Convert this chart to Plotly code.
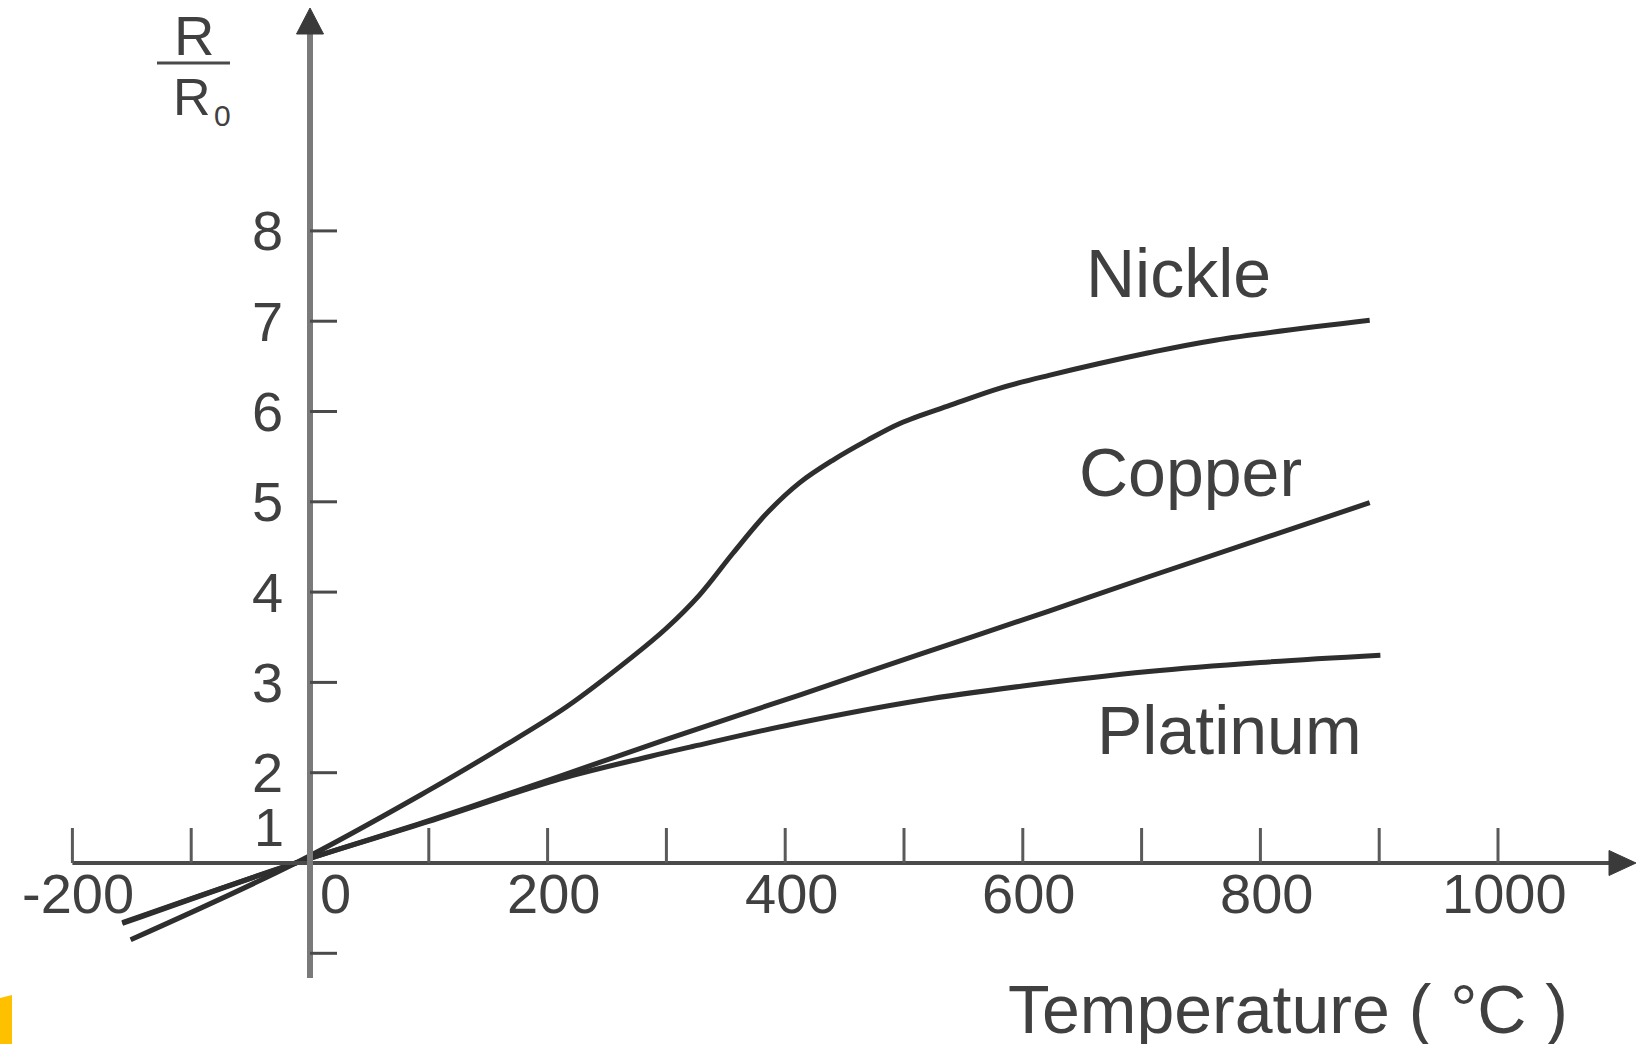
import plotly.graph_objects as go

# Resistance ratio R/R0 versus temperature for three metals
temp_nickel = [-151, -12, 98, 160, 216, 271, 300, 328, 356, 385, 412, 440, 469, 497, 539, 581, 622, 706, 762, 892]
ratio_nickel = [0.15, 1.0, 1.79, 2.27, 2.73, 3.28, 3.60, 3.97, 4.43, 4.88, 5.21, 5.46, 5.68, 5.87, 6.07, 6.26, 6.40, 6.65, 6.79, 7.01]

temp_copper = [-158, -12, 100, 210, 300, 412, 513, 622, 706, 892]
ratio_copper = [0.33, 1.0, 1.47, 1.96, 2.37, 2.86, 3.31, 3.79, 4.17, 4.99]

temp_platinum = [-158, -12, 100, 210, 286, 322, 407, 513, 600, 706, 800, 901]
ratio_platinum = [0.34, 1.0, 1.46, 1.93, 2.18, 2.29, 2.54, 2.80, 2.96, 3.12, 3.22, 3.30]

x_tick_values = [-200, -100, 100, 200, 300, 400, 500, 600, 700, 800, 900, 1000]
x_label_values = [-200, 200, 400, 600, 800, 1000]
y_tick_values = [0, 2, 3, 4, 5, 6, 7, 8]
y_label_values = [2, 3, 4, 5, 6, 7, 8]

series_names = ["Nickle", "Copper", "Platinum"]
series_label_pos = [(731, 7.53), (741, 5.33), (774, 2.47)]

# page geometry: the axes cross at (0 °C, R/R0 = 1)
W, H = 1642, 1044
X0_PX, X_SCALE = 310, 1.188   # pixel column of 0 °C, pixels per °C
Y1_PX, Y_SCALE = 863, 90.3    # pixel row of R/R0 = 1, pixels per unit


def dx(px):
    return px / X_SCALE


def dy(px):
    return px / Y_SCALE


x_range = [-X0_PX / X_SCALE, (W - X0_PX) / X_SCALE]
y_range = [1 - (H - Y1_PX) / Y_SCALE, 1 + Y1_PX / Y_SCALE]

CURVE = "#2e2e2e"
TEXT = "#404040"
FONT = "Liberation Sans, Arial, sans-serif"

fig = go.Figure()
for t, r in [(temp_nickel, ratio_nickel), (temp_copper, ratio_copper), (temp_platinum, ratio_platinum)]:
    fig.add_trace(go.Scatter(x=t, y=r, mode="lines",
                             line=dict(color=CURVE, width=5, shape="spline", smoothing=1.0),
                             hoverinfo="skip", showlegend=False))

shapes = []
# horizontal axis with arrow
x_tip = x_range[1] - dx(6)
shapes.append(dict(type="line", xref="x", yref="y", x0=-200, y0=1, x1=x_tip - dx(20), y1=1,
                   line=dict(color="#4a4a4a", width=4)))
shapes.append(dict(type="path", xref="x", yref="y",
                   path=f"M {x_tip},1 L {x_tip - dx(27)},{1 + dy(12.5)} L {x_tip - dx(27)},{1 - dy(12.5)} Z",
                   fillcolor="#3a3a3a", line=dict(color="#3a3a3a", width=1)))
# vertical axis with arrow
y_tip = y_range[1] - dy(8)
shapes.append(dict(type="line", xref="x", yref="y", x0=0, y0=1 - dy(115), x1=0, y1=y_tip - dy(20),
                   line=dict(color="#7a7a7a", width=6)))
shapes.append(dict(type="path", xref="x", yref="y",
                   path=f"M 0,{y_tip} L {-dx(13.5)},{y_tip - dy(26)} L {dx(13.5)},{y_tip - dy(26)} Z",
                   fillcolor="#3a3a3a", line=dict(color="#3a3a3a", width=1)))
for t in x_tick_values:
    shapes.append(dict(type="line", xref="x", yref="y", x0=t, y0=1, x1=t, y1=1 + dy(35),
                       line=dict(color="#5a5a5a", width=3)))
for t in y_tick_values:
    shapes.append(dict(type="line", xref="x", yref="y", x0=0, y0=t, x1=dx(27), y1=t,
                       line=dict(color="#4a4a4a", width=3)))
# fraction bar of the R/R0 axis title
shapes.append(dict(type="line", xref="x", yref="y", x0=-dx(153), y0=1 + dy(800), x1=-dx(80), y1=1 + dy(800),
                   line=dict(color="#4a4a4a", width=3)))
# small orange tab in the lower-left corner
shapes.append(dict(type="path", xref="paper", yref="paper",
                   path=f"M 0,{1 - 998 / H} L {12 / W},{1 - 995 / H} L {12 / W},0 L 0,0 Z",
                   fillcolor="#FFC000", line=dict(width=0)))

ann = []


def label(x, y, text, size, xshift=0, yshift=0, xanchor="center"):
    ann.append(dict(x=x, y=y, xref="x", yref="y", text=text, showarrow=False,
                    xanchor=xanchor, yanchor="middle", xshift=xshift, yshift=yshift,
                    font=dict(family=FONT, size=size, color=TEXT)))


for v in x_label_values:
    label(v, 1, str(v), 56, xshift=6, yshift=-30)
label(0, 1, "0", 56, xshift=25, yshift=-30)
for v in y_label_values:
    label(0, v, str(v), 56, xshift=-43)
label(0, 1, "1", 54, xshift=-41, yshift=36)

for name, (lx, ly) in zip(series_names, series_label_pos):
    label(lx, ly, name, 68)

label(823, 1 - dy(146), "Temperature ( °C )", 68)
label(-dx(116), 1 + dy(828), "R", 56)
label(-dx(118), 1 + dy(766), "R", 52)
label(-dx(88), 1 + dy(748), "0", 30)

fig.update_layout(
    width=W, height=H,
    margin=dict(l=0, r=0, t=0, b=0),
    paper_bgcolor="white", plot_bgcolor="white",
    xaxis=dict(range=x_range, visible=False, fixedrange=True),
    yaxis=dict(range=y_range, visible=False, fixedrange=True),
    shapes=shapes, annotations=ann,
)

fig.write_html("out.html", config={"displayModeBar": False})
